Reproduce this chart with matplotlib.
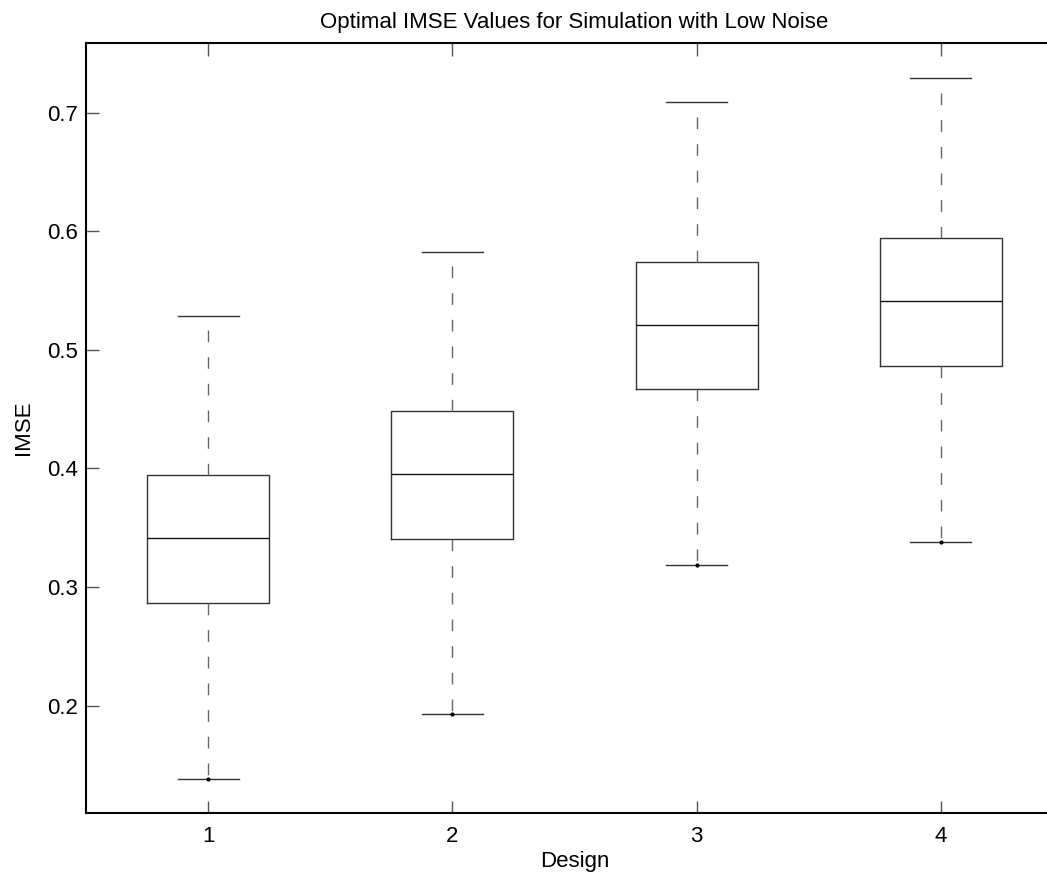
import matplotlib.pyplot as plt

plt.rcParams['font.family'] = ['Liberation Sans', 'DejaVu Sans']

# box statistics, one entry per design
designs = [1, 2, 3, 4]
whisker_low = [0.1385, 0.1927, 0.3189, 0.3383]
q1 = [0.2863, 0.3406, 0.4668, 0.4867]
medians = [0.3411, 0.3951, 0.5210, 0.5410]
q3 = [0.3943, 0.4482, 0.5741, 0.5944]
whisker_high = [0.5288, 0.5825, 0.7088, 0.7290]

stats = []
for i in range(len(designs)):
    stats.append({'label': str(designs[i]), 'whislo': whisker_low[i], 'q1': q1[i],
                  'med': medians[i], 'q3': q3[i], 'whishi': whisker_high[i], 'fliers': []})

fig = plt.figure(figsize=(10.47, 8.75), dpi=100)
# axes run past the right edge of the picture, as in the original
ax = fig.add_axes([86 / 1047, 1 - 813 / 875, (1063 - 86) / 1047, (813 - 43) / 875])

ax.bxp(stats, positions=designs, widths=0.5, showfliers=False,
       boxprops=dict(color='#333333', linewidth=1.0),
       medianprops=dict(color='#111111', linewidth=1.0),
       whiskerprops=dict(color='#666666', linewidth=1.0, linestyle=(0, (8.4, 10.8))),
       capprops=dict(color='#333333', linewidth=1.0),
       capwidths=0.25)

# small dot on the lower whisker ends
ax.plot(designs, whisker_low, linestyle='none', marker='.', markersize=4, color='black')

ax.set_xlim(0.5, 4.5)
ax.set_ylim(0.1095, 0.7588)
ax.set_xticks(designs)
ax.set_xticklabels([str(d) for d in designs])
ax.set_yticks([0.2, 0.3, 0.4, 0.5, 0.6, 0.7])
ax.tick_params(direction='in', length=9, width=1, labelsize=16, top=True, right=True,
               color='#555555')
ax.tick_params(axis='y', pad=5.5)
ax.tick_params(axis='x', pad=9)
for s in ax.spines.values():
    s.set_linewidth(1.5)

ax.set_title('Optimal IMSE Values for Simulation with Low Noise', fontsize=16, pad=11)
ax.set_xlabel('Design', fontsize=16, labelpad=3)
ax.set_ylabel('IMSE', fontsize=16, labelpad=10)

fig.savefig('out.png', dpi=100)
